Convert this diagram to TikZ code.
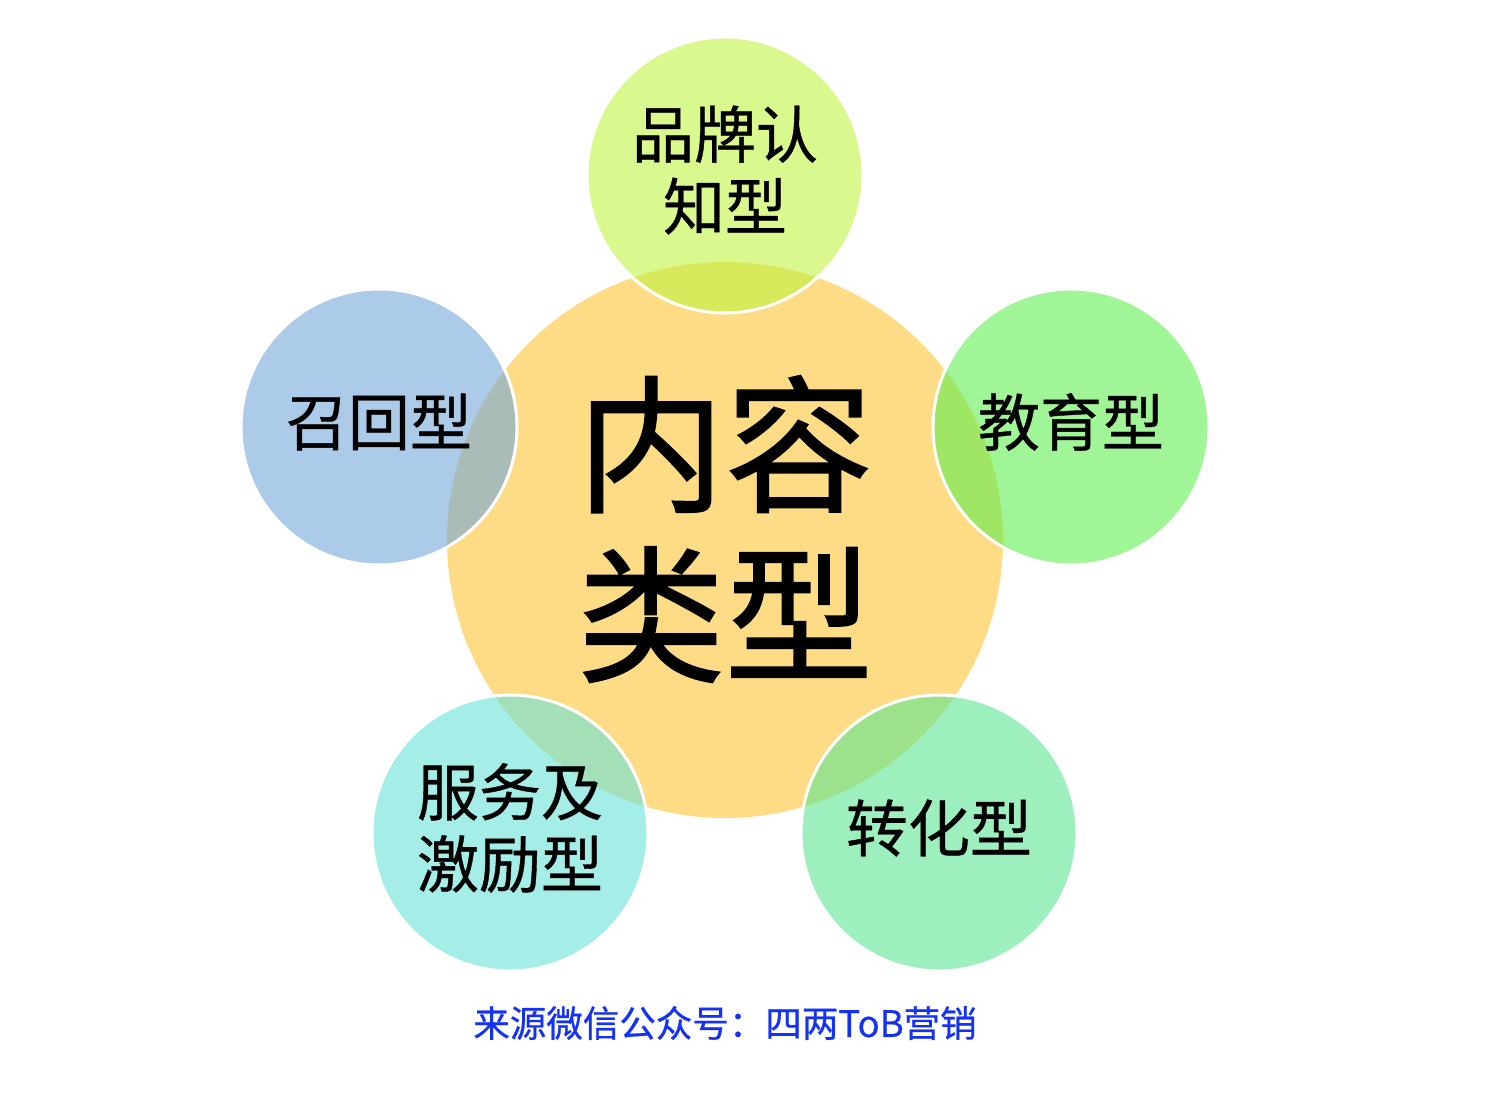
\documentclass[tikz,border=0pt]{standalone}
\usepackage{fontspec}
\setmainfont{Noto Sans CJK SC}
\newfontfamily\heavycjk[FakeBold=1]{Noto Sans CJK SC}
\newfontfamily\semicjk[FakeBold=0.6]{Noto Sans CJK SC}
\usetikzlibrary{positioning}
\definecolor{coreyellow}{RGB}{253,220,133}
\definecolor{brandgreen}{RGB}{192,243,65}
\definecolor{recallblue}{RGB}{115,168,218}
\definecolor{edugreen}{RGB}{97,238,80}
\definecolor{servecyan}{RGB}{105,227,217}
\definecolor{convgreen}{RGB}{92,230,147}
\definecolor{sourceblue}{RGB}{20,50,245}
\tikzset{
x=1pt, y=-1pt, % pixel like units
core/.style={circle, fill=coreyellow, minimum size=556pt, inner sep=0pt}, % the big centre circle
coretext/.style={align=center, font=\heavycjk\fontsize{148}{170}\selectfont},
petal/.style={circle, draw=white, line width=3pt, fill opacity=0.6,
  minimum size=276pt, inner sep=0pt}, % the small circles around it
petaltext/.style={align=center, font=\semicjk\fontsize{62}{72}\selectfont},
}
\begin{document}
\begin{tikzpicture}
\useasboundingbox (0,0) rectangle (1500,1102);
\node[core] (content) at (725,540) {};
\node[coretext] (contentlabel) at ([yshift=11pt]content.center) {内容\\类型};
\node[petal, fill=brandgreen] (brand) at (725,175) {};
\node[petal, fill=recallblue] (recall) at (379,427) {};
\node[petal, fill=edugreen] (edu) at (1071,427) {};
\node[petal, fill=servecyan] (serve) at (510,833) {};
\node[petal, fill=convgreen] (conv) at (939,833) {};
\node[petaltext] (brandlabel) at ([yshift=5pt]brand.center) {品牌认\\知型};
\node[petaltext] (recalllabel) at ([yshift=5pt]recall.center) {召回型};
\node[petaltext] (edulabel) at ([yshift=5pt]edu.center) {教育型};
\node[petaltext] (servelabel) at ([yshift=5pt]serve.center) {服务及\\激励型};
\node[petaltext] (convlabel) at ([yshift=5pt]conv.center) {转化型};
\node[text=sourceblue, font=\semicjk\fontsize{36.5}{44}\selectfont] (source) at (725,1023) {来源微信公众号：四两ToB营销};
\end{tikzpicture}
\end{document}
